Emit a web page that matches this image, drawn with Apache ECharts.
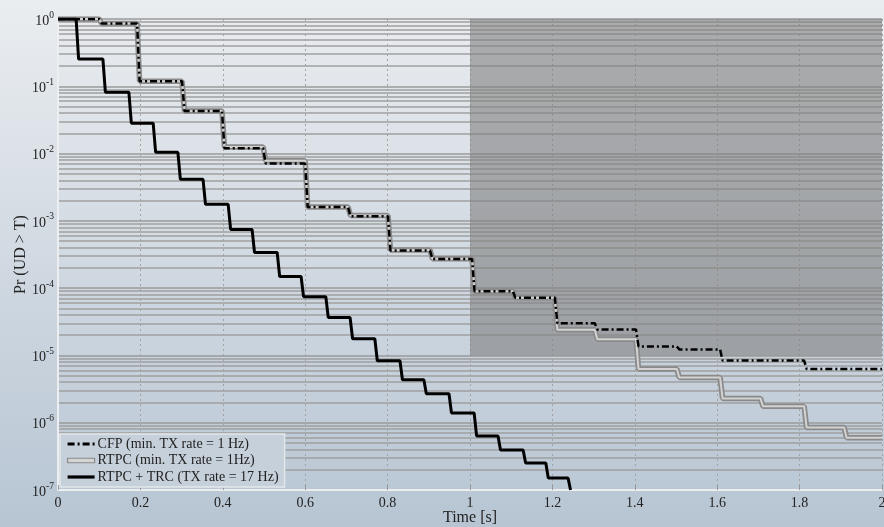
<!DOCTYPE html>
<html><head><meta charset="utf-8">
<script src="https://cdn.jsdelivr.net/npm/echarts@6/dist/echarts.min.js"></script>
<style>html,body{margin:0;padding:0;background:#dfe4ea;}#c{width:884px;height:527px;}</style>
</head><body><div id="c"></div>
<script>
// ---- data ----
const seriesNames = ['CFP (min. TX rate = 1 Hz)', 'RTPC (min. TX rate = 1Hz)', 'RTPC + TRC (TX rate = 17 Hz)'];

// CFP (dash-dot): step start times [s] and probability levels
const cfpT = [0, 0.10, 0.192, 0.301, 0.398, 0.498, 0.600, 0.704, 0.801, 0.903, 1.005, 1.104, 1.206, 1.303, 1.403, 1.502, 1.607, 1.811];
const cfpP = [1.0, 0.86, 0.119, 0.043, 0.0120, 0.0071, 0.00160, 0.00117, 3.62e-4, 2.70e-4, 9.0e-5, 7.2e-5, 3.0e-5, 2.43e-5, 1.36e-5, 1.23e-5, 8.4e-6, 6.3e-6];

// RTPC (grey)
const rtpcT = [0, 0.10, 0.192, 0.301, 0.398, 0.498, 0.600, 0.704, 0.801, 0.903, 1.005, 1.104, 1.206, 1.303, 1.403, 1.502, 1.607, 1.705, 1.811, 1.908];
const rtpcP = [1.0, 0.86, 0.119, 0.043, 0.0125, 0.0078, 0.00160, 0.00120, 3.7e-4, 2.73e-4, 9.0e-5, 7.2e-5, 2.4e-5, 1.74e-5, 6.3e-6, 4.7e-6, 2.3e-6, 1.76e-6, 8.5e-7, 6.0e-7];

// RTPC + TRC (black solid)
const trcT = [0, 0.044, 0.109, 0.172, 0.231, 0.291, 0.352, 0.413, 0.471, 0.532, 0.590, 0.650, 0.709, 0.769, 0.830, 0.888, 0.949, 1.010, 1.068, 1.129, 1.184, 1.238];
const trcP = [1.0, 0.254, 0.0818, 0.0283, 0.01045, 0.00414, 0.00176, 7.45e-4, 3.39e-4, 1.49e-4, 7.48e-5, 3.65e-5, 1.77e-5, 8.34e-6, 4.35e-6, 2.69e-6, 1.40e-6, 6.37e-7, 3.94e-7, 2.52e-7, 1.51e-7, 1e-7];

// shaded region (time range, probability range)
const shadeT = [1, 2];
const shadeP = [1, 1e-5];

const xMin = 0, xMax = 2, xStep = 0.2;
const yMin = 1e-7, yMax = 1;

// ---- build step paths ----
const SLANT = 0.006;
function steps(ts, ps, tEnd) {
  const out = [[ts[0], ps[0]]];
  for (let i = 1; i < ts.length; i++) {
    out.push([ts[i], ps[i - 1]]);
    out.push([ts[i] + SLANT, ps[i]]);
  }
  if (tEnd != null) out.push([tEnd, ps[ps.length - 1]]);
  return out;
}
const cfpData = steps(cfpT, cfpP, xMax);
const rtpcData = steps(rtpcT, rtpcP, xMax);
const trcData = steps(trcT, trcP, null);

const FONT = '"Liberation Serif", "DejaVu Serif", serif';
const chart = echarts.init(document.getElementById('c'), null, {renderer: 'canvas'});
chart.setOption({
  animation: false,
  backgroundColor: {
    type: 'linear', x: 0, y: 0, x2: 0, y2: 1,
    colorStops: [{offset: 0, color: '#eaedf0'}, {offset: 1, color: '#b7c5d3'}]
  },
  grid: {left: 58, right: 2, top: 19, bottom: 37, containLabel: false, outerBoundsMode: 'none'},
  legend: {
    data: [
      {name: seriesNames[0], lineStyle: {width: 3}},
      {name: seriesNames[1], icon: 'path://M0,0H30V5H0Z',
       itemStyle: {opacity: 1, color: '#d4d4d4', borderColor: '#8a8a8a', borderWidth: 1.2}},
      {name: seriesNames[2], lineStyle: {width: 3.2}}
    ],
    orient: 'vertical',
    left: 60, top: 434,
    itemWidth: 27, itemHeight: 14, itemGap: 2.5,
    padding: [3, 6, 3, 6],
    backgroundColor: '#c6d0da',
    borderColor: '#e4e7ea', borderWidth: 1.5,
    itemStyle: {opacity: 0},
    textStyle: {fontFamily: FONT, fontSize: 14, color: '#222', padding: [0, 0, 0, -2]}
  },
  xAxis: {
    type: 'value', min: xMin, max: xMax, interval: xStep,
    name: 'Time [s]', nameLocation: 'middle', nameGap: 20, nameMoveOverlap: false,
    nameTextStyle: {fontFamily: FONT, fontSize: 16, color: '#222'},
    axisLine: {show: true, lineStyle: {color: '#eceef0', width: 2}},
    axisTick: {show: true, inside: true, length: 5, lineStyle: {color: '#999'}},
    axisLabel: {fontFamily: FONT, fontSize: 14, color: '#222', margin: 6},
    splitLine: {show: true, lineStyle: {color: '#a2a2a2', type: [2, 3], width: 1}}
  },
  yAxis: {
    type: 'log', logBase: 10, min: yMin, max: yMax,
    name: 'Pr (UD > T)', nameLocation: 'middle', nameGap: 29, nameMoveOverlap: false,
    nameTextStyle: {fontFamily: FONT, fontSize: 16, color: '#222'},
    axisLine: {show: true, lineStyle: {color: '#eceef0', width: 2}},
    axisTick: {show: false},
    minorTick: {show: false, splitNumber: 9},
    axisLabel: {
      margin: 4,
      formatter: function (v) {
        const e = Math.round(Math.log10(v));
        return '{b|10}{s|' + e + '}';
      },
      rich: {
        b: {fontFamily: FONT, fontSize: 14, color: '#222', lineHeight: 18, verticalAlign: 'bottom'},
        s: {fontFamily: FONT, fontSize: 9.5, color: '#222', lineHeight: 11, verticalAlign: 'top'}
      }
    },
    splitLine: {show: true, lineStyle: {color: '#9a9a9a', width: 1.5}},
    minorSplitLine: {show: true, lineStyle: {color: '#a0a0a0', width: 1.5}}
  },
  series: [
    {
      name: 'shade', type: 'line', data: [], z: 1, silent: true,
      markArea: {
        silent: true,
        itemStyle: {color: 'rgba(128,128,128,0.6)'},
        data: [[{xAxis: shadeT[0], yAxis: shadeP[0]}, {xAxis: shadeT[1], yAxis: shadeP[1]}]]
      }
    },
    {
      name: seriesNames[1], type: 'line', data: rtpcData, showSymbol: false, symbol: 'none', z: 3,
      color: '#8a8a8a', lineStyle: {color: '#8a8a8a', width: 5.5}
    },
    {
      name: 'rtpc-core', type: 'line', data: rtpcData, showSymbol: false, symbol: 'none', z: 4,
      lineStyle: {color: '#d2d2d2', width: 2}
    },
    {
      name: seriesNames[0], type: 'line', data: cfpData, showSymbol: false, symbol: 'none', z: 5,
      color: '#000', lineStyle: {color: '#000', width: 2.5, type: [7, 3, 2, 3]}
    },
    {
      name: seriesNames[2], type: 'line', data: trcData, showSymbol: false, symbol: 'none', z: 6,
      color: '#000', lineStyle: {color: '#000', width: 3}
    }
  ]
});
</script>
</body></html>
